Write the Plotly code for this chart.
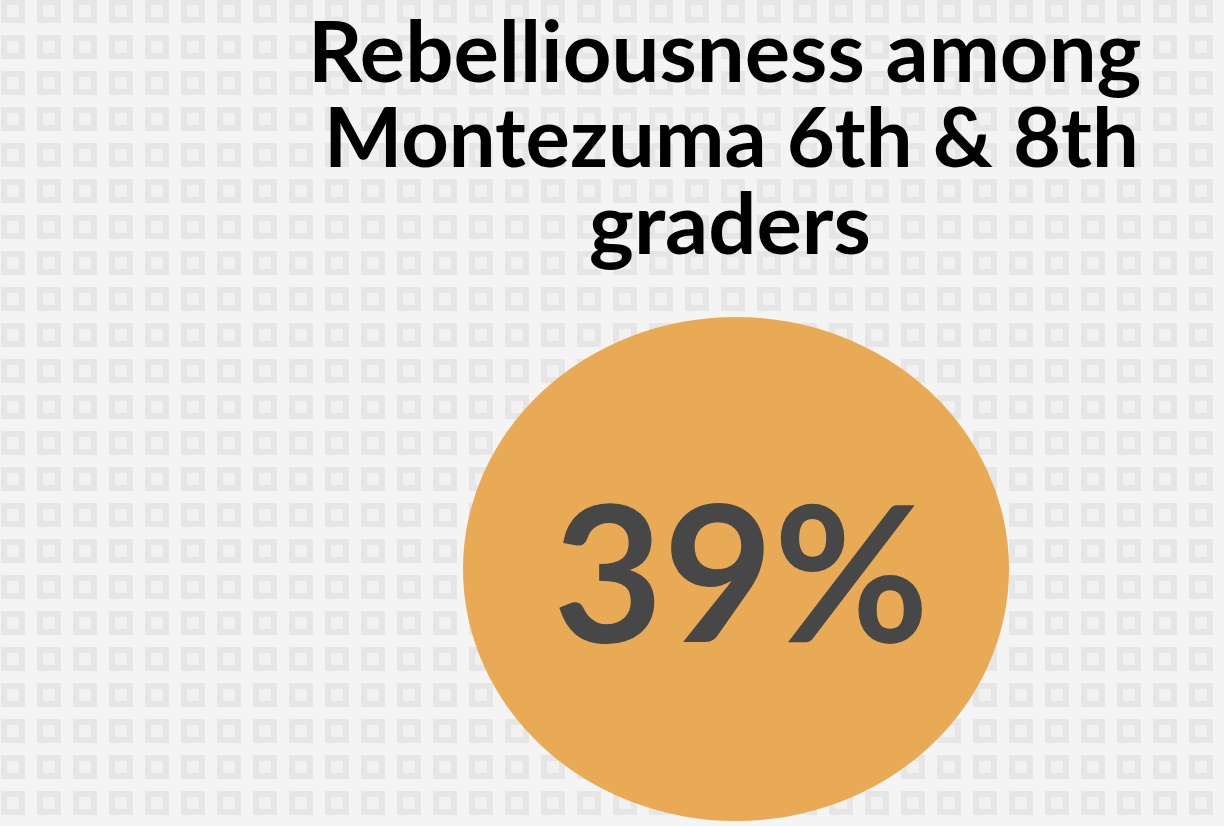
import numpy as np
import plotly.graph_objects as go

# ---- data ----
TITLE_LINES = ["Rebelliousness among", "Montezuma 6th & 8th", "graders"]
VALUE = [39]
VALUE_SUFFIX = ["%"]

W, H = 1224, 826
BG = "#f4f4f4"
SQ = "#e6e6e6"
SQ_IN = "#f1f1f1"
CIRCLE_COLOR = "#e8aa54"
NUM_COLOR = "#474747"

fig = go.Figure()

# decorative background pattern of hollow squares
gx = np.arange(13, W, 36)
gy = np.arange(11, H, 36)
XX, YY = np.meshgrid(gx, gy)
fig.add_trace(go.Scatter(
    x=XX.ravel(), y=YY.ravel(), mode="markers",
    marker=dict(symbol="square", size=18, color=SQ_IN, line=dict(width=6, color=SQ)),
    hoverinfo="skip", showlegend=False,
))

# circle
fig.add_shape(type="circle", xref="x", yref="y", x0=463, x1=1009, y0=317, y1=821,
              fillcolor=CIRCLE_COLOR, line=dict(width=0), layer="above")

# title lines
title_pos = [(724.5, 49, 85), (731.5, 135, 83), (730, 221, 85)]
for line, (cx, cy, fs) in zip(TITLE_LINES, title_pos):
    fig.add_annotation(x=cx, y=cy, xref="x", yref="y", text=line, showarrow=False,
                       xanchor="center", yanchor="middle",
                       font=dict(family="Lato", size=fs, color="#000000", weight="bold"))

fig.add_annotation(x=741, y=568, xref="x", yref="y",
                   text=f"{VALUE[0]}{VALUE_SUFFIX[0]}", showarrow=False,
                   xanchor="center", yanchor="middle",
                   font=dict(family="Lato", size=190, color=NUM_COLOR, weight="bold"))

fig.update_layout(
    width=W, height=H, margin=dict(l=0, r=0, t=0, b=0),
    paper_bgcolor=BG, plot_bgcolor=BG,
    xaxis=dict(range=[0, W], visible=False, fixedrange=True),
    yaxis=dict(range=[H, 0], visible=False, fixedrange=True),
)

fig.write_html("out.html", config={"displayModeBar": False},
               post_script="document.body.style.margin='0';document.body.style.overflow='hidden';")
